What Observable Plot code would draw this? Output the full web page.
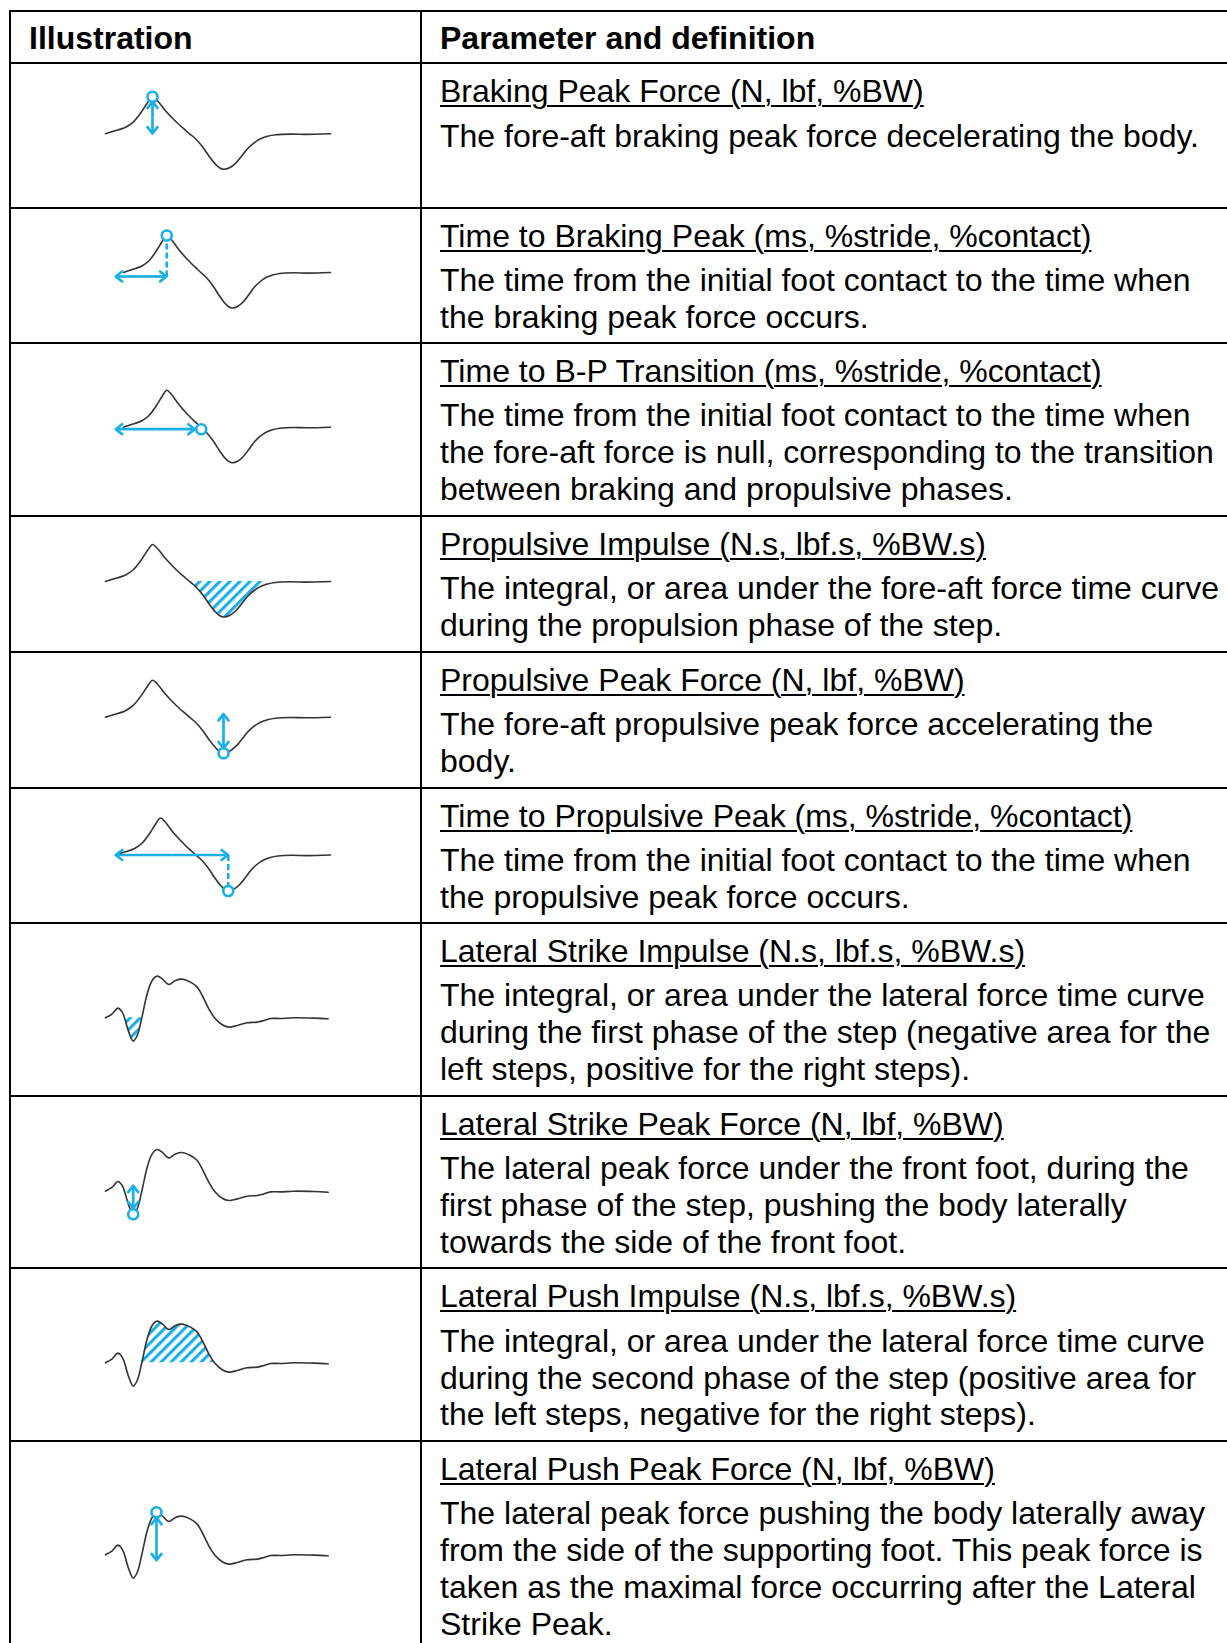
<!DOCTYPE html>
<html>
<head>
<meta charset="utf-8">
<script src="https://cdn.jsdelivr.net/npm/d3@7"></script>
<script src="https://cdn.jsdelivr.net/npm/@observablehq/plot@0.6"></script>
<style>
html, body { margin: 0; padding: 0; background: #fff; overflow: hidden; }
#page { position: relative; width: 1227px; height: 1643px; overflow: hidden;
  font-family: "Liberation Sans", Arial, Helvetica, sans-serif; color: #000; }
.hline { position: absolute; left: 9px; width: 1300px; height: 2px; background: #000; }
.vline { position: absolute; width: 2px; background: #000; }
.txt { position: absolute; font-size: 32px; line-height: 36.8px; white-space: nowrap; }
.head { font-weight: bold; }
.title { text-decoration: underline; text-decoration-thickness: 2px; text-underline-offset: 3px; margin-bottom: 7.7px; }
.cell { position: absolute; }
.cell svg { display: block; overflow: visible; }
</style>
</head>
<body>
<div id="page"></div>
<script>
// ---------------- DATA ----------------
const headers = ["Illustration", "Parameter and definition"];

const parameterNames = [
  "Braking Peak Force (N, lbf, %BW)",
  "Time to Braking Peak (ms, %stride, %contact)",
  "Time to B-P Transition (ms, %stride, %contact)",
  "Propulsive Impulse (N.s, lbf.s, %BW.s)",
  "Propulsive Peak Force (N, lbf, %BW)",
  "Time to Propulsive Peak (ms, %stride, %contact)",
  "Lateral Strike Impulse (N.s, lbf.s, %BW.s)",
  "Lateral Strike Peak Force (N, lbf, %BW)",
  "Lateral Push Impulse (N.s, lbf.s, %BW.s)",
  "Lateral Push Peak Force (N, lbf, %BW)"
];

const definitions = [
  ["The fore-aft braking peak force decelerating the body."],
  ["The time from the initial foot contact to the time when",
   "the braking peak force occurs."],
  ["The time from the initial foot contact to the time when",
   "the fore-aft force is null, corresponding to the transition",
   "between braking and propulsive phases."],
  ["The integral, or area under the fore-aft force time curve",
   "during the propulsion phase of the step."],
  ["The fore-aft propulsive peak force accelerating the",
   "body."],
  ["The time from the initial foot contact to the time when",
   "the propulsive peak force occurs."],
  ["The integral, or area under the lateral force time curve",
   "during the first phase of the step (negative area for the",
   "left steps, positive for the right steps)."],
  ["The lateral peak force under the front foot, during the",
   "first phase of the step, pushing the body laterally",
   "towards the side of the front foot."],
  ["The integral, or area under the lateral force time curve",
   "during the second phase of the step (positive area for",
   "the left steps, negative for the right steps)."],
  ["The lateral peak force pushing the body laterally away",
   "from the side of the supporting foot. This peak force is",
   "taken as the maximal force occurring after the Lateral",
   "Strike Peak."]
];

// Fore-aft force time curve (time units, force units)
const foreAftTime  = [0, 8, 20, 28, 36, 42, 47, 52, 60, 70, 80, 84, 90, 97, 104, 110, 114, 118, 124, 130, 136, 142, 148, 155, 162, 170, 185, 200, 225];
const foreAftForce = [0, 2.5, 6.5, 12, 22, 31, 37, 33, 23, 12.5, 3.5, 0, -5, -13, -23, -30.5, -34, -35.5, -34, -29.5, -22.5, -15, -9.5, -5, -2.5, -1, -0.3, -0.6, 0];

// Lateral force time curve
const lateralTime  = [0, 6.7, 12.3, 16.7, 19, 23.3, 27.7, 31.7, 36.3, 41.7, 46.7, 51.7, 56.7, 63.3, 70, 76.7, 85, 91.7, 96.7, 103.3, 109, 116.7, 123.3, 131.7, 141.7, 151.7, 158.3, 165, 175, 188.3, 208.3, 222.7];
const lateralForce = [0, 4, 9.7, 5.7, 0, -14.3, -23.3, -17.7, 0, 24, 37.3, 41.7, 39, 33.3, 37.3, 38.7, 35.7, 30.7, 22.3, 9, 0, -7, -9.3, -7.7, -5, -4.3, -2.7, -0.7, -0.7, 0, -0.3, -1];

// Events [time, force]
const brakingPeak       = [47, 37];
const bpTransition      = [84.5, -2];
const propulsivePeak    = [118, -36];
const lateralStrikePeak = [27.7, -23];
const lateralPushPeak   = [51, 42.5];
// Phases [start, end]
const propulsionPhase = [84, 165];
const strikePhase     = [19, 36.3];
const pushPhase       = [36.3, 109];

// ---------------- LAYOUT ----------------
const rowLines = [10.7, 63.3, 207.7, 342.7, 515.7, 651.5, 787.5, 922.5, 1095.7, 1268.3, 1441, 1720];
const illusLayout = [
  {kind: "fa",  x: [105, 330],   base: 133.3},
  {kind: "fa",  x: [123, 330],   base: 272},
  {kind: "fa",  x: [123, 330],   base: 426.7},
  {kind: "fa",  x: [105, 330],   base: 581},
  {kind: "fa",  x: [105, 330],   base: 716.7},
  {kind: "fa",  x: [115, 330],   base: 854.5},
  {kind: "lat", x: [105, 327.7], base: 1017.3},
  {kind: "lat", x: [105, 327.7], base: 1190.7},
  {kind: "lat", x: [105, 327.7], base: 1362.3},
  {kind: "lat", x: [105, 327.7], base: 1554.3}
];
const cellLeft = 11, cellRight = 420;
const cyan = "#1aafe6";
const ink = "#333333";

const page = document.getElementById("page");
function div(cls, style, html) {
  const d = document.createElement("div");
  d.className = cls;
  Object.assign(d.style, style);
  if (html != null) d.innerHTML = html;
  page.appendChild(d);
  return d;
}
const lineTop = rowLines.map(y => Math.round(y - 1));

// table lines
lineTop.slice(0, -1).forEach(t => div("hline", {top: t + "px"}));
div("vline", {left: "9px", top: lineTop[0] + "px", height: "1700px"});
div("vline", {left: "420px", top: lineTop[0] + "px", height: "1700px"});

// header
div("txt head", {left: "29px", top: (lineTop[0] + 9.5) + "px"}, headers[0]);
div("txt head", {left: "440px", top: (lineTop[0] + 9.5) + "px"}, headers[1]);

// row texts
parameterNames.forEach((name, i) => {
  const top = rowLines[i + 1] + 10;
  const d = div("txt", {left: "440px", top: top + "px"});
  const t = document.createElement("div");
  t.className = "title";
  t.textContent = name;
  d.appendChild(t);
  definitions[i].forEach(line => {
    const l = document.createElement("div");
    l.textContent = line;
    d.appendChild(l);
  });
});

// illustrations
const foreAft = foreAftTime.map((t, i) => ({t, F: foreAftForce[i]}));
const lateral = lateralTime.map((t, i) => ({t, F: lateralForce[i]}));

function addHatch(svg, id) {
  const ns = "http://www.w3.org/2000/svg";
  const defs = document.createElementNS(ns, "defs");
  const p = document.createElementNS(ns, "pattern");
  p.setAttribute("id", id);
  p.setAttribute("patternUnits", "userSpaceOnUse");
  p.setAttribute("width", 7.1);
  p.setAttribute("height", 7.1);
  p.setAttribute("patternTransform", "rotate(45)");
  const r = document.createElementNS(ns, "rect");
  r.setAttribute("width", 3.1);
  r.setAttribute("height", 7.1);
  r.setAttribute("fill", cyan);
  p.appendChild(r);
  defs.appendChild(p);
  svg.insertBefore(defs, svg.firstChild);
}

const arrowStyle = {stroke: cyan, strokeWidth: 2.7, markerEnd: "arrow"};
const dot = (ev) => Plot.dot([{t: ev[0], F: ev[1]}], {x: "t", y: "F", r: 5, stroke: cyan, strokeWidth: 2.6, fill: "white"});
// double-headed arrows drawn as two halves pointing outward from the middle
const vArrow = (t, f1, f2) => {
  const m = (f1 + f2) / 2;
  return Plot.link([{t, a: m, b: f1}, {t, a: m, b: f2}], {x1: "t", x2: "t", y1: "a", y2: "b", ...arrowStyle});
};
const hArrow = (F, t1, t2) => {
  const m = (t1 + t2) / 2;
  return Plot.link([{F, a: m, b: t1}, {F, a: m, b: t2}], {x1: "a", x2: "b", y1: "F", y2: "F", ...arrowStyle});
};
const dashed = (t, f1, f2) => Plot.link([{t, f1, f2}], {x1: "t", x2: "t", y1: "f1", y2: "f2", stroke: cyan, strokeWidth: 2.6, strokeDasharray: "6,3"});
const hatch = (data, phase, sign, id) => Plot.areaY(
  data.filter(d => d.t >= phase[0] && d.t <= phase[1]).map(d => ({t: d.t, F: sign < 0 ? Math.min(d.F, 0) : Math.max(d.F, 0)})),
  {x: "t", y1: 0, y2: "F", fill: `url(#${id})`, curve: "catmull-rom"});

const annotations = [
  () => [vArrow(brakingPeak[0], 2.5, 30), dot(brakingPeak)],
  () => [dashed(brakingPeak[0], -4, brakingPeak[1] - 5), hArrow(-4, -6, brakingPeak[0] - 2.7), dot(brakingPeak)],
  () => [hArrow(bpTransition[1], -6, 75), dot(bpTransition)],
  () => [],
  () => [vArrow(propulsivePeak[0], 1, -29), dot(propulsivePeak)],
  () => [dashed(propulsivePeak[0], 0, propulsivePeak[1] + 5), hArrow(0, 2.6, propulsivePeak[0] - 2.6), dot(propulsivePeak)],
  () => [],
  () => [vArrow(lateralStrikePeak[0], 3.2, -15), dot(lateralStrikePeak)],
  () => [],
  () => [vArrow(lateralPushPeak[0], 34.8, -3.2), dot(lateralPushPeak)]
];
const hatches = [null, null, null,
  (id) => hatch(foreAft, propulsionPhase, -1, id), null, null,
  (id) => hatch(lateral, strikePhase, -1, id), null,
  (id) => hatch(lateral, pushPhase, 1, id), null];

illusLayout.forEach((L, i) => {
  const cellTop = lineTop[i + 1] + 2;
  const cellH = Math.min(lineTop[i + 2], 1643) - cellTop;
  const w = cellRight - cellLeft;
  const base = L.base - cellTop;
  const data = L.kind === "fa" ? foreAft : lateral;
  const tMax = data[data.length - 1].t;
  const id = "hatch" + i;
  const marks = [];
  if (hatches[i]) marks.push(hatches[i](id));
  marks.push(Plot.line(data, {x: "t", y: "F", curve: "catmull-rom", stroke: ink, strokeWidth: 1.6}));
  marks.push(...annotations[i]());
  const svg = Plot.plot({
    width: w, height: cellH,
    margin: 0,
    style: {background: "transparent", overflow: "visible"},
    x: {domain: [0, tMax], range: [L.x[0] - cellLeft, L.x[1] - cellLeft], axis: null},
    y: {domain: [-100, 100], range: [base + 100, base - 100], axis: null},
    marks
  });
  if (hatches[i]) addHatch(svg, id);
  // arrowhead style: fixed pixel size, slightly longer chevron
  svg.querySelectorAll("marker").forEach(m => {
    m.setAttribute("markerUnits", "userSpaceOnUse");
    m.setAttribute("markerWidth", 16);
    m.setAttribute("markerHeight", 16);
    m.setAttribute("stroke-width", 1.7);
    const p = m.querySelector("path");
    if (p) p.setAttribute("d", "M-2.6,-3.1L1.4,0L-2.6,3.1");
  });
  const c = div("cell", {left: cellLeft + "px", top: cellTop + "px", width: w + "px", height: cellH + "px"});
  c.appendChild(svg);
});
</script>
</body>
</html>
